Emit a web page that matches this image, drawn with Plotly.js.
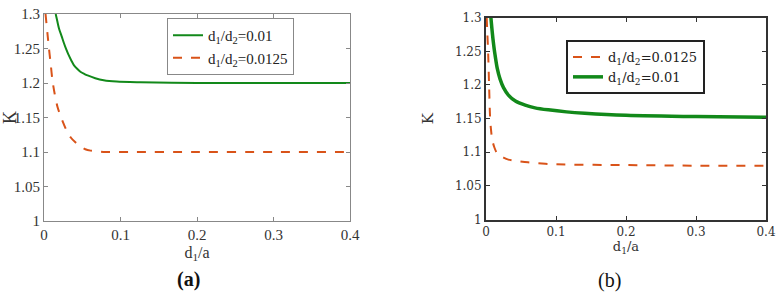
<!DOCTYPE html>
<html><head><meta charset="utf-8">
<script src="https://cdn.plot.ly/plotly-3.0.1.min.js"></script>
<style>html,body{margin:0;padding:0;background:#fff}#chart{width:782px;height:296px}</style>
</head><body><div id="chart"></div>
<script>
// Panel (a)
const aGreenX = [0.0153, 0.0175, 0.0196, 0.023, 0.026, 0.029, 0.032, 0.036, 0.039, 0.044, 0.048, 0.053, 0.057, 0.067, 0.078, 0.095, 0.126, 0.2, 0.3, 0.4];
const aGreenY = [1.30, 1.289, 1.279, 1.268, 1.258, 1.249, 1.241, 1.232, 1.226, 1.220, 1.216, 1.213, 1.211, 1.207, 1.204, 1.202, 1.201, 1.2, 1.2, 1.2];
const aOrangeX = [0.002, 0.0045, 0.0065, 0.009, 0.011, 0.014, 0.0175, 0.022, 0.026, 0.030, 0.035, 0.041, 0.048, 0.054, 0.061, 0.07, 0.08, 0.12, 0.2, 0.3, 0.4];
const aOrangeY = [1.3, 1.272, 1.25, 1.225, 1.204, 1.184, 1.166, 1.151, 1.140, 1.130, 1.121, 1.114, 1.108, 1.104, 1.102, 1.101, 1.1, 1.1, 1.1, 1.1, 1.1];
// Panel (b)
const bGreenX = [0.007, 0.0085, 0.010, 0.0115, 0.013, 0.016, 0.020, 0.025, 0.032, 0.042, 0.056, 0.07, 0.089, 0.115, 0.141, 0.2, 0.3, 0.4];
const bGreenY = [1.3, 1.283, 1.268, 1.255, 1.244, 1.225, 1.209, 1.196, 1.185, 1.176, 1.170, 1.166, 1.163, 1.160, 1.158, 1.155, 1.153, 1.152];
const bOrangeX = [0.001, 0.002, 0.003, 0.0044, 0.0057, 0.007, 0.009, 0.012, 0.015, 0.02, 0.025, 0.032, 0.045, 0.06, 0.1, 0.2, 0.3, 0.4];
const bOrangeY = [1.3, 1.275, 1.25, 1.2, 1.155, 1.135, 1.118, 1.107, 1.100, 1.095, 1.092, 1.089, 1.087, 1.085, 1.082, 1.081, 1.080, 1.080];

const nameGreen = 'd<sub>1</sub>/d<sub>2</sub>=0.01';
const nameOrange = 'd<sub>1</sub>/d<sub>2</sub>=0.0125';
const xTicks = [0, 0.1, 0.2, 0.3, 0.4];
const xTickText = ['0', '0.1', '0.2', '0.3', '0.4'];
const yTicks = [1, 1.05, 1.1, 1.15, 1.2, 1.25, 1.3];
const yTickText = ['1', '1.05', '1.1', '1.15', '1.2', '1.25', '1.3'];

const GREEN = '#12891a', ORANGE = '#d95319';
const fontA = 'Liberation Serif';
const fontB = 'DejaVu Serif';

const traces = [
  {x: aGreenX, y: aGreenY, name: nameGreen, type: 'scatter', mode: 'lines', line: {color: GREEN, width: 2, shape: 'spline', smoothing: 0.8}, xaxis: 'x', yaxis: 'y', legend: 'legend'},
  {x: aOrangeX, y: aOrangeY, name: nameOrange, type: 'scatter', mode: 'lines', line: {color: ORANGE, width: 2, dash: 'dash', shape: 'spline', smoothing: 0.8}, xaxis: 'x', yaxis: 'y', legend: 'legend'},
  {x: bOrangeX, y: bOrangeY, name: nameOrange, type: 'scatter', mode: 'lines', line: {color: ORANGE, width: 2, dash: 'dash', shape: 'spline', smoothing: 0.8}, xaxis: 'x2', yaxis: 'y2', legend: 'legend2'},
  {x: bGreenX, y: bGreenY, name: nameGreen, type: 'scatter', mode: 'lines', line: {color: GREEN, width: 3.5, shape: 'spline', smoothing: 0.8}, xaxis: 'x2', yaxis: 'y2', legend: 'legend2'}
];

function axX(domain, anchor, font, size, color, lw, lc, title, standoff) {
  return {domain, anchor, range: [0, 0.4], tickvals: xTicks, ticktext: xTickText, ticks: 'inside', ticklen: 4,
    tickcolor: lc, showline: true, linecolor: lc, linewidth: lw, mirror: 'ticks', showgrid: false, zeroline: false,
    tickfont: {family: font, size, color}, title: {text: title, font: {family: font, size: size + 1, color}, standoff}};
}
function axY(domain, anchor, font, size, color, lw, lc, title, standoff) {
  return {domain, anchor, range: [1, 1.3], tickvals: yTicks, ticktext: yTickText, ticks: 'inside', ticklen: 4,
    tickcolor: lc, showline: true, linecolor: lc, linewidth: lw, mirror: 'ticks', showgrid: false, zeroline: false,
    tickfont: {family: font, size, color}, title: {text: title, font: {family: font, size: size + 3, color}, standoff}};
}

const layout = {
  width: 782, height: 296, margin: {l: 0, r: 0, t: 0, b: 0},
  paper_bgcolor: '#fff', plot_bgcolor: '#fff',
  xaxis: axX([44/782, 350/782], 'y', fontA, 15, '#333', 1, '#888', 'd<sub>1</sub>/a', 4),
  yaxis: axY([1 - 221/296, 1 - 14/296], 'x', fontA, 15, '#333', 1, '#888', 'K', 2),
  xaxis2: axX([486/782, 766/782], 'y2', fontB, 12, '#333', 2, '#333', 'd<sub>1</sub>/a', 0),
  yaxis2: axY([1 - 219.5/296, 1 - 17.7/296], 'x2', fontB, 12, '#333', 2, '#333', 'K', 18),
  showlegend: true,
  legend: {x: 167/782, y: 1 - 18/296, xanchor: 'left', yanchor: 'top', bgcolor: '#fff', bordercolor: '#888', borderwidth: 1,
    font: {family: fontA, size: 15, color: '#222'}, itemwidth: 30, tracegroupgap: 0},
  legend2: {x: 566/782, y: 1 - 40/296, xanchor: 'left', yanchor: 'top', bgcolor: '#fff', bordercolor: '#222', borderwidth: 2,
    font: {family: fontB, size: 13, color: '#222'}, itemwidth: 30, tracegroupgap: 0},
  annotations: [
    {text: '<b>(a)</b>', x: 188/782, y: 1 - 279/296, xref: 'paper', yref: 'paper', xanchor: 'center', yanchor: 'middle', showarrow: false, font: {family: fontA, size: 20, color: '#111'}},
    {text: '(b)', x: 609/782, y: 1 - 280/296, xref: 'paper', yref: 'paper', xanchor: 'center', yanchor: 'middle', showarrow: false, font: {family: fontA, size: 20, color: '#111'}}
  ]
};

Plotly.newPlot('chart', traces, layout, {staticPlot: true, displayModeBar: false});
</script></body></html>
